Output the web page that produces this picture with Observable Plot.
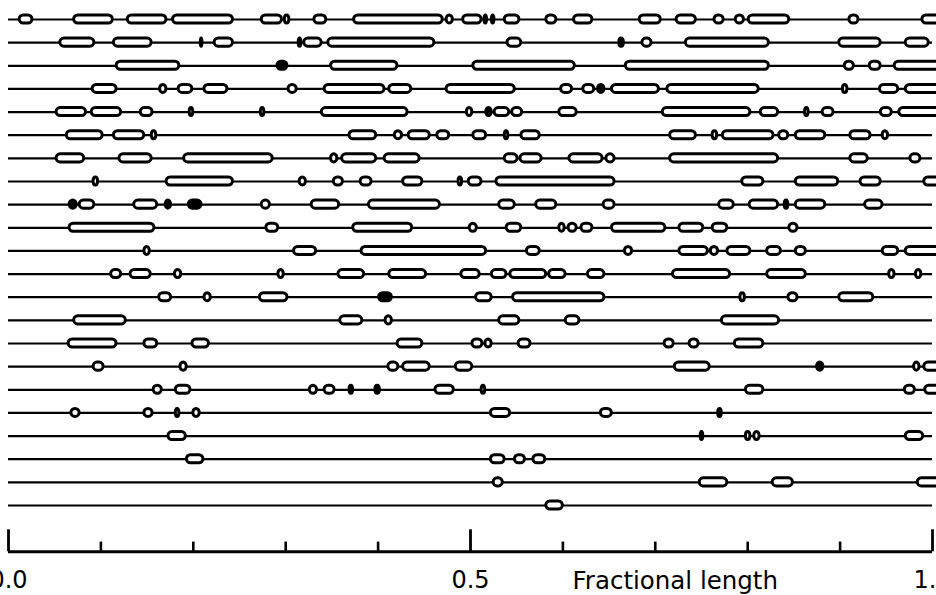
<!DOCTYPE html>
<html><head><meta charset="utf-8">
<script src="https://cdn.jsdelivr.net/npm/d3@7"></script>
<script src="https://cdn.jsdelivr.net/npm/@observablehq/plot@0.6"></script>
<style>html,body{margin:0;padding:0;background:#fff;overflow:hidden;width:936px;height:595px}</style>
</head><body><div id="chart"></div>
<script>
// Each row: list of segments [start, end, solid?] in fractional length
const rows = [
  [[0.011,0.027],[0.070,0.114],[0.128,0.172],[0.177,0.244],[0.273,0.297],[0.298,0.305],[0.330,0.345],[0.373,0.471],[0.473,0.482],[0.491,0.513],[0.514,0.519,1],[0.522,0.527],[0.536,0.554],[0.581,0.594],[0.611,0.633],[0.682,0.707],[0.722,0.745],[0.763,0.775],[0.786,0.797],[0.800,0.846],[0.909,0.921],[0.988,1.014]],
  [[0.055,0.094],[0.113,0.156],[0.207,0.211],[0.222,0.244],[0.313,0.318],[0.319,0.340],[0.345,0.462],[0.539,0.556],[0.660,0.667,1],[0.685,0.697],[0.732,0.824],[0.898,0.945],[0.970,0.997]],
  [[0.116,0.186],[0.290,0.303,1],[0.348,0.422],[0.502,0.614],[0.667,0.824],[0.904,0.916],[0.931,0.945],[0.958,1.014]],
  [[0.090,0.118],[0.163,0.172],[0.183,0.200],[0.211,0.238],[0.302,0.313],[0.341,0.408],[0.411,0.437],[0.473,0.549],[0.597,0.611],[0.621,0.635],[0.637,0.646,1],[0.652,0.705],[0.712,0.813],[0.902,0.909],[0.942,0.964],[0.970,1.014]],
  [[0.051,0.085],[0.089,0.123],[0.142,0.157],[0.195,0.201],[0.272,0.278],[0.338,0.433],[0.495,0.503],[0.516,0.524,1],[0.525,0.543],[0.544,0.557],[0.595,0.616],[0.707,0.804],[0.813,0.834],[0.861,0.867],[0.880,0.894],[0.943,0.957],[0.963,1.014]],
  [[0.062,0.103],[0.113,0.148],[0.154,0.161],[0.368,0.399],[0.417,0.427],[0.432,0.457],[0.463,0.478],[0.502,0.518],[0.536,0.542],[0.554,0.576],[0.715,0.745],[0.761,0.768],[0.772,0.829],[0.833,0.845],[0.851,0.885],[0.910,0.934],[0.945,0.953]],
  [[0.051,0.083],[0.119,0.156],[0.189,0.287],[0.348,0.357],[0.360,0.399],[0.406,0.446],[0.536,0.552],[0.553,0.578],[0.606,0.644],[0.646,0.657],[0.715,0.834],[0.910,0.931],[0.975,0.988]],
  [[0.091,0.098],[0.170,0.244],[0.314,0.323],[0.351,0.363],[0.380,0.394],[0.426,0.449],[0.486,0.492],[0.497,0.513],[0.527,0.657],[0.793,0.818],[0.851,0.899],[0.921,0.945],[0.990,1.014]],
  [[0.065,0.075,1],[0.076,0.094],[0.135,0.162],[0.169,0.177,1],[0.194,0.210,1],[0.273,0.284],[0.327,0.359],[0.389,0.468],[0.530,0.549],[0.570,0.594],[0.643,0.657],[0.768,0.786],[0.801,0.834],[0.839,0.845,1],[0.851,0.885],[0.926,0.947]],
  [[0.065,0.159],[0.278,0.293],[0.372,0.438],[0.498,0.508],[0.538,0.556],[0.595,0.603],[0.605,0.616],[0.619,0.633],[0.652,0.712],[0.725,0.753],[0.761,0.779],[0.844,0.855]],
  [[0.146,0.154],[0.308,0.334],[0.381,0.518],[0.560,0.576],[0.666,0.676],[0.725,0.758],[0.759,0.769],[0.777,0.804],[0.820,0.837],[0.851,0.864],[0.945,0.964],[0.970,1.014]],
  [[0.110,0.123],[0.131,0.155],[0.179,0.188],[0.291,0.299],[0.356,0.386],[0.411,0.453],[0.489,0.511],[0.522,0.540],[0.542,0.583],[0.584,0.604],[0.626,0.646],[0.718,0.782],[0.820,0.864],[0.952,0.960],[0.981,0.989]],
  [[0.162,0.177],[0.211,0.220],[0.271,0.303],[0.400,0.416,1],[0.505,0.524],[0.545,0.646],[0.791,0.798],[0.843,0.855],[0.898,0.937]],
  [[0.070,0.128],[0.358,0.384],[0.407,0.416],[0.530,0.554],[0.602,0.619],[0.771,0.835]],
  [[0.064,0.118],[0.146,0.162],[0.198,0.218],[0.420,0.449],[0.501,0.514],[0.515,0.524],[0.551,0.566],[0.709,0.721],[0.736,0.748],[0.785,0.818]],
  [[0.091,0.104],[0.185,0.194],[0.410,0.423],[0.426,0.457],[0.483,0.503],[0.720,0.760],[0.874,0.883,1],[0.979,0.987],[0.990,1.014]],
  [[0.156,0.167],[0.180,0.198],[0.325,0.335],[0.341,0.354],[0.368,0.374,1],[0.396,0.403,1],[0.461,0.483],[0.511,0.517],[0.797,0.818],[0.969,0.982],[0.991,1.014]],
  [[0.067,0.078],[0.146,0.157],[0.180,0.186],[0.199,0.208],[0.521,0.544],[0.640,0.654],[0.767,0.773,1]],
  [[0.172,0.193],[0.748,0.753],[0.797,0.804],[0.806,0.814],[0.970,0.991]],
  [[0.192,0.212],[0.521,0.538],[0.547,0.560],[0.567,0.582]],
  [[0.524,0.536],[0.747,0.779],[0.826,0.850],[0.983,1.014]],
  [[0.581,0.601]]
];
const majorTicks = [0, 0.5, 1.0];
const tickLabels = ["0.0", "0.5", "1.0"];
const minorTicks = [0.1, 0.2, 0.3, 0.4, 0.6, 0.7, 0.8, 0.9];
const axisTitle = "Fractional length";

const rowIds = rows.map((r, i) => i + 1);
const segs = rows.flatMap((r, i) => r.map(([a, b, s]) => ({row: i + 1, start: a, end: b, solid: !!s})));
const openSegs = segs.filter(d => !d.solid);
const solidSegs = segs.filter(d => d.solid);
const H = 0.175; // half box height in row units
const AXIS = rows.length + 2;
const boxStyle = {x1: "start", x2: "end", y1: d => d.row - H, y2: d => d.row + H,
  stroke: "#000", strokeWidth: 3, rx: 4, insetLeft: 1, insetRight: 1};

const chart = Plot.plot({
  width: 936, height: 595,
  marginLeft: 0, marginRight: 0, marginTop: 0, marginBottom: 0,
  x: {domain: [0, 1], range: [8, 932], axis: null},
  y: {domain: [1, rows.length], range: [19, 505], axis: null},
  style: {fontFamily: "DejaVu Sans", background: "#fff", color: "#000"},
  marks: [
    Plot.ruleY(rowIds, {y: d => d, x1: 0, x2: 1, stroke: "#000", strokeWidth: 2.2}),
    Plot.rect(openSegs, {...boxStyle, fill: "#fff"}),
    Plot.rect(solidSegs, {...boxStyle, fill: "#000"}),
    // axis
    Plot.ruleY([AXIS], {y: d => d, x1: 0, x2: 1, stroke: "#000", strokeWidth: 3}),
    Plot.ruleX(majorTicks, {x: d => d, y1: AXIS - 0.95, y2: AXIS, stroke: "#000", strokeWidth: 2.8}),
    Plot.ruleX(minorTicks, {x: d => d, y1: AXIS - 0.42, y2: AXIS, stroke: "#000", strokeWidth: 2.6}),
    Plot.text(majorTicks, {x: d => d, y: AXIS + 1.25, text: (d, i) => tickLabels[i], fontSize: 24, fill: "#000"}),
    Plot.text([axisTitle], {x: 0.6104, y: AXIS + 1.25, text: d => d, textAnchor: "start", fontSize: 24.5, fill: "#000"})
  ]
});
document.getElementById("chart").appendChild(chart);
</script>
</body></html>
